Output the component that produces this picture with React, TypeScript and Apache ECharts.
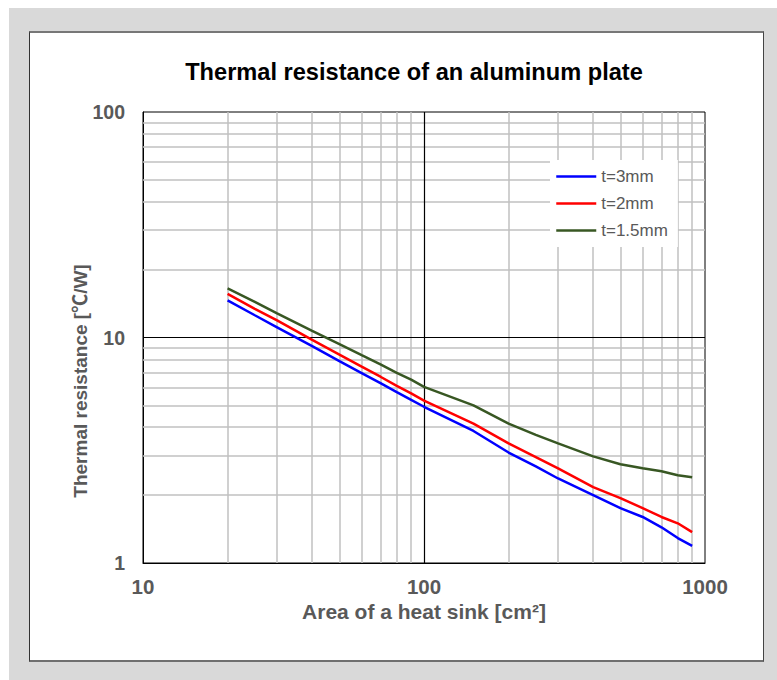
import React, { useEffect, useRef } from "react";
import * as echarts from "echarts";

const areas = [20, 25, 30, 40, 50, 60, 70, 80, 90, 100, 150, 200, 250, 300, 400, 500, 600, 700, 800, 900];
const t3mm = [14.6, 12.55, 11.1, 9.15, 7.85, 6.95, 6.27, 5.72, 5.29, 4.93, 3.85, 3.09, 2.68, 2.37, 2.0, 1.75, 1.6, 1.44, 1.29, 1.19];
const t2mm = [15.6, 13.4, 11.9, 9.76, 8.4, 7.43, 6.7, 6.1, 5.65, 5.25, 4.15, 3.39, 2.95, 2.63, 2.17, 1.94, 1.75, 1.6, 1.5, 1.37];
const t15mm = [16.5, 14.4, 12.8, 10.7, 9.35, 8.35, 7.6, 6.97, 6.5, 6.04, 5.0, 4.15, 3.7, 3.39, 2.97, 2.74, 2.63, 2.55, 2.45, 2.4];
const seriesNames = ["t=3mm", "t=2mm", "t=1.5mm"];
const seriesColors = ["#0000ff", "#ff0000", "#385723"];
const xMinorLines = [20, 30, 40, 50, 60, 70, 80, 90, 200, 300, 400, 500, 600, 700, 800, 900];
const yMinorLines = [2, 3, 4, 5, 6, 7, 8, 9, 20, 30, 40, 50, 60, 70, 80, 90];
const xMajorLines = [100];
const yMajorLines = [10];
const titleText = "Thermal resistance of an aluminum plate";
const xName = "Area of a heat sink [cm²]";
const yName = "Thermal resistance [℃/W]";

const FONT = "'Liberation Sans', Arial, 'Noto Sans CJK SC', sans-serif";

export default function App() {
  const ref = useRef<HTMLDivElement>(null);
  useEffect(() => {
    if (!ref.current) return;
    const chart = echarts.init(ref.current, undefined, { renderer: "svg" });
    const vals = [t3mm, t2mm, t15mm];
    const dataSeries = seriesNames.map((name, i) => ({
      name,
      type: "line",
      data: areas.map((a, j) => [a, vals[i][j]]),
      symbol: "none",
      smooth: false,
      lineStyle: { color: seriesColors[i], width: 2.5 },
      itemStyle: { color: seriesColors[i] },
      z: 5,
    }));
    const markLineCommon = {
      silent: true,
      symbol: ["none", "none"],
      label: { show: false },
      animation: false,
    };
    chart.setOption({
      animation: false,
      textStyle: { fontFamily: FONT },
      grid: {
        left: 113,
        top: 79,
        width: 562,
        height: 451,
        show: true,
        borderColor: "#000",
        borderWidth: 1,
        backgroundColor: "transparent",
      },
      xAxis: {
        type: "log",
        logBase: 10,
        min: 10,
        max: 1000,
        axisLine: { show: true, lineStyle: { color: "#000", width: 1 } },
        axisTick: { show: false },
        splitLine: { show: false },
        minorTick: { show: false },
        axisLabel: {
          color: "#595959",
          fontSize: 20.5,
          fontWeight: "bold",
          fontFamily: FONT,
          margin: 13,
          formatter: (v: number) => String(Math.round(v)),
        },
        name: xName,
        nameLocation: "middle",
        nameGap: 36,
        nameTextStyle: { color: "#595959", fontSize: 21, fontWeight: "bold", fontFamily: FONT },
      },
      yAxis: {
        type: "log",
        logBase: 10,
        min: 1,
        max: 100,
        axisLine: { show: true, lineStyle: { color: "#000", width: 1 } },
        axisTick: { show: false },
        splitLine: { show: false },
        minorTick: { show: false },
        axisLabel: {
          color: "#595959",
          fontSize: 19.5,
          fontWeight: "bold",
          fontFamily: FONT,
          margin: 18,
          formatter: (v: number) => String(Math.round(v)),
        },
      },
      legend: {
        data: seriesNames,
        orient: "vertical",
        left: 520,
        top: 127,
        itemWidth: 40,
        itemHeight: 14,
        itemGap: 10,
        padding: [8, 10, 8, 5],
        backgroundColor: "#ffffff",
        itemStyle: { opacity: 0 },
        lineStyle: { width: 2.5 },
        textStyle: { color: "#595959", fontSize: 17, fontFamily: FONT },
        selectedMode: false,
        z: 10,
      },
      graphic: [
        {
          type: "text",
          x: 384,
          y: 39,
          style: {
            text: titleText,
            align: "center",
            verticalAlign: "middle",
            fill: "#000",
            fontSize: 23.6,
            fontWeight: "bold",
            fontFamily: FONT,
          },
        },
        {
          type: "text",
          x: 50,
          y: 348,
          rotation: Math.PI / 2,
          style: {
            text: yName,
            align: "center",
            verticalAlign: "middle",
            fill: "#595959",
            fontSize: 19,
            fontWeight: "bold",
            fontFamily: FONT,
          },
        },
      ],
      series: [
        {
          name: "minorGrid",
          type: "line",
          data: [],
          z: 1,
          markLine: {
            ...markLineCommon,
            lineStyle: { color: "#c0c0c0", width: 1.5, type: "solid" },
            data: [
              ...xMinorLines.map((v) => ({ xAxis: v })),
              ...yMinorLines.map((v) => ({ yAxis: v })),
            ],
          },
        },
        {
          name: "majorGrid",
          type: "line",
          data: [],
          z: 2,
          markLine: {
            ...markLineCommon,
            lineStyle: { color: "#000", width: 1.2, type: "solid" },
            data: [
              ...xMajorLines.map((v) => ({ xAxis: v })),
              ...yMajorLines.map((v) => ({ yAxis: v })),
            ],
          },
        },
        ...dataSeries,
      ],
    });
    return () => chart.dispose();
  }, []);

  return (
    <div
      style={{
        position: "absolute",
        left: 9,
        top: 8,
        width: 768,
        height: 672,
        background: "#d9d9d9",
      }}
    >
      <div
        style={{
          position: "absolute",
          left: 20,
          top: 23,
          width: 735,
          height: 631,
          background: "#ffffff",
          boxSizing: "border-box",
          borderLeft: "1px solid #333",
          borderRight: "1px solid #444",
          borderTop: "2px solid #777",
          borderBottom: "2px solid #6f6f6f",
        }}
      >
        <div ref={ref} style={{ width: 733, height: 627 }} />
      </div>
    </div>
  );
}
